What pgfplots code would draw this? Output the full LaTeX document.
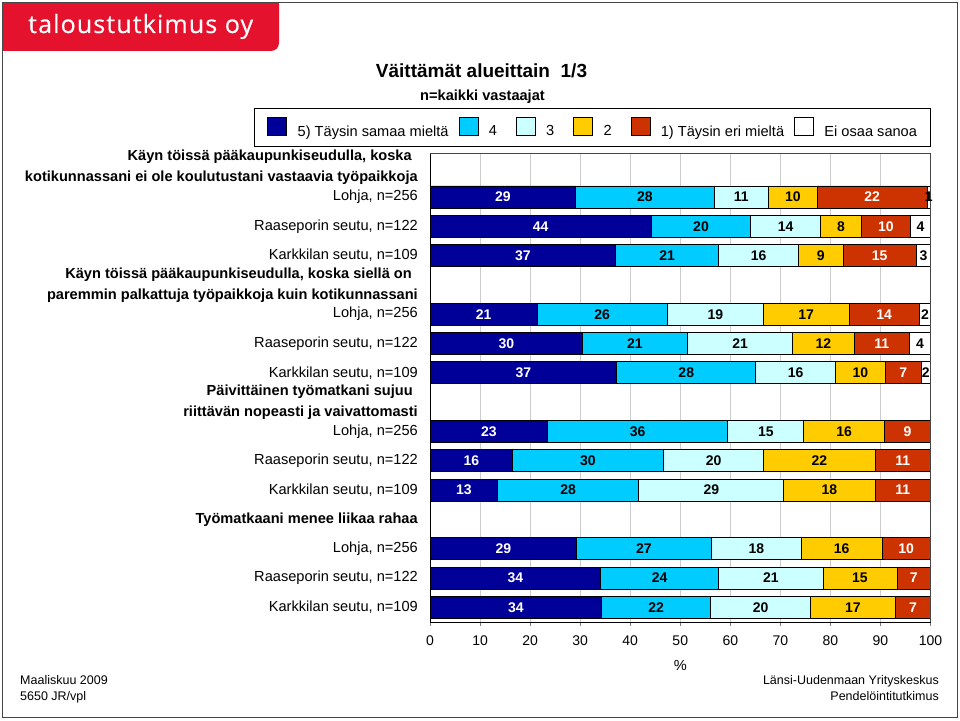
\documentclass[border=0pt]{standalone}
\usepackage{pgfplots}
\pgfplotsset{compat=1.18}
\usepackage{pgfplotstable}
\usepackage{fontspec}
\setmainfont{Liberation Sans}
\newfontfamily\logofont[LetterSpace=4.5,FakeBold=0.4]{Open Sans}
\definecolor{c5}{RGB}{0,0,153}
\definecolor{c4}{RGB}{0,204,255}
\definecolor{c3}{RGB}{204,255,255}
\definecolor{c2}{RGB}{255,204,0}
\definecolor{c1}{RGB}{204,51,0}
\definecolor{tred}{RGB}{228,18,45}
\definecolor{frame}{RGB}{70,70,70}

% y: slot position; a..f: segment widths (5,4,3,2,1,EOS)
\pgfplotstableread{
y  a    b    c    d    e    f
0  29.1 27.7 10.8 9.8  21.9 0.7
1  44.2 19.9 13.9 8.2  9.8  4.0
2  37.1 20.6 15.9 8.9  14.7 2.8
4  21.4 26.0 19.2 17.1 14.1 2.2
5  30.5 20.9 21.1 12.2 11.1 4.2
6  37.3 27.8 15.9 10.0 7.1  1.9
8  23.5 36.0 15.2 16.1 9.2  0
9  16.5 30.1 20.1 22.2 11.1 0
10 13.5 28.2 29.0 18.2 11.1 0
12 29.3 26.9 18.0 16.1 9.7  0
13 34.1 23.6 20.8 14.8 6.7  0
14 34.3 21.8 19.9 17.0 7.0  0
}\data
% printed labels (la..lf) at segment centres (ma..mf)
\pgfplotstableread{
y  ma    la mb    lb mc    lc md    ld me    le mf    lf
0  14.55 29 42.95 28 62.20 11 72.50 10 88.35 22 99.65 1
1  22.10 44 54.15 20 71.05 14 82.10 8  91.10 10 98.00 4
2  18.55 37 47.40 21 65.65 16 78.05 9  89.85 15 98.60 3
4  10.70 21 34.40 26 57.00 19 75.15 17 90.75 14 98.90 2
5  15.25 30 40.95 21 61.95 21 78.60 12 90.25 11 97.90 4
6  18.65 37 51.20 28 73.05 16 86.00 10 94.55 7  99.05 2
8  11.75 23 41.50 36 67.10 15 82.75 16 95.40 9  100 {}
9  8.25  16 31.55 30 56.65 20 77.80 22 94.45 11 100 {}
10 6.75  13 27.60 28 56.20 29 79.80 18 94.45 11 100 {}
12 14.65 29 42.75 27 65.20 18 82.25 16 95.15 10 100 {}
13 17.05 34 45.90 24 68.10 21 85.90 15 96.65 7  100 {}
14 17.15 34 45.20 22 66.05 20 84.50 17 96.50 7  100 {}
}\labels

\begin{document}
\begin{tikzpicture}[x=1pt,y=1pt]
\useasboundingbox (0,0) rectangle (960,720);
% red logo tab
\fill[tred] (3,717) -- (279,717) -- (279,677) arc[start angle=0,end angle=-90,radius=8] -- (3,669) -- cycle;
\node[anchor=base west, inner sep=0pt, text=white, font=\logofont\fontsize{25}{25}\selectfont] at (28,687) {taloustutkimus oy};
\draw[frame, line width=1pt] (2.5,2.5) rectangle (957.5,717.5);

% titles
\node[anchor=base, inner sep=0pt, font=\bfseries\fontsize{19}{19}\selectfont] at (481.5,642.3) {Väittämät alueittain\ \ 1/3};
\node[anchor=base, inner sep=0pt, font=\bfseries\fontsize{14.6}{14.6}\selectfont] at (482.5,619) {n=kaikki vastaajat};

% footers
\node[anchor=base west, inner sep=0pt, font=\fontsize{12.5}{12.5}\selectfont] at (20,35.5) {Maaliskuu 2009};
\node[anchor=base west, inner sep=0pt, font=\fontsize{12.5}{12.5}\selectfont] at (20,19.5) {5650 JR/vpl};
\node[anchor=base east, inner sep=0pt, font=\fontsize{12.5}{12.5}\selectfont] at (939,35.5) {Länsi-Uudenmaan Yrityskeskus};
\node[anchor=base east, inner sep=0pt, font=\fontsize{12.5}{12.5}\selectfont] at (939,19.5) {Pendelöintitutkimus};

\begin{axis}[
  at={(430pt,98pt)}, anchor=south west,
  scale only axis, width=500.5pt, height=469pt,
  xbar stacked, bar width=0.75,
  xmin=0, xmax=100, ymin=-1.5, ymax=14.5, y dir=reverse,
  xtick={0,10,...,100}, xtick pos=left,
  tick align=outside, major tick length=4pt,
  xmajorgrids, grid style={draw=black!20, line width=0.8pt},
  axis line style={line width=1pt},
  /pgf/number format/assume math mode=true,
  xticklabel style={font=\fontsize{14}{14}\selectfont, yshift=-6pt},
  xlabel={\%}, xlabel style={font=\fontsize{14.6}{14.6}\selectfont, yshift=-8pt},
  ytick={-1,0,...,14},
  ytick style={draw=none},
  yticklabel style={align=right, inner sep=0pt, xshift=-8pt, font=\fontsize{14.6}{21}\selectfont},
  yticklabels={
    {\textbf{Käyn töissä pääkaupunkiseudulla, koska}\hspace*{6pt}\\\textbf{kotikunnassani ei ole koulutustani vastaavia työpaikkoja}},
    {Lohja, n=256},{Raaseporin seutu, n=122},{Karkkilan seutu, n=109},
    {\textbf{Käyn töissä pääkaupunkiseudulla, koska siellä on}\hspace*{6pt}\\\textbf{paremmin palkattuja työpaikkoja kuin kotikunnassani}},
    {Lohja, n=256},{Raaseporin seutu, n=122},{Karkkilan seutu, n=109},
    {\textbf{Päivittäinen työmatkani sujuu}\hspace*{5pt}\\\textbf{riittävän nopeasti ja vaivattomasti}},
    {Lohja, n=256},{Raaseporin seutu, n=122},{Karkkilan seutu, n=109},
    {\textbf{Työmatkaani menee liikaa rahaa}},
    {Lohja, n=256},{Raaseporin seutu, n=122},{Karkkilan seutu, n=109}
  },
  every axis plot/.append style={draw=black, line width=0.8pt},
  legend columns=6,
  legend image code/.code={\draw[#1, draw=black, line width=0.8pt] (0pt,-4pt) rectangle (19pt,14pt); \path (29.5pt,0pt);},
  legend style={at={(rel axis cs:1,1)}, anchor=south east, yshift=6pt,
    draw=black, line width=1pt, inner xsep=13pt, inner ysep=9pt,
    font=\fontsize{14.6}{14.6}\selectfont,
    nodes={inner sep=0pt},
    /tikz/every even column/.append style={column sep=10pt}},
  legend cell align=left,
  after end axis/.code={\draw[frame, line width=1pt] (rel axis cs:0,1) -- (rel axis cs:1,1) -- (rel axis cs:1,0);},
]
\addplot[fill=c5] table[x=a, y=y] {\data};
\addlegendentry{5) Täysin samaa mieltä}
\addplot[fill=c4] table[x=b, y=y] {\data};
\addlegendentry{\makebox[17pt][l]{4}}
\addplot[fill=c3] table[x=c, y=y] {\data};
\addlegendentry{\makebox[17pt][l]{3}}
\addplot[fill=c2] table[x=d, y=y] {\data};
\addlegendentry{\makebox[17pt][l]{2}}
\addplot[fill=c1] table[x=e, y=y] {\data};
\addlegendentry{1) Täysin eri mieltä}
\addplot[fill=white] table[x=f, y=y] {\data};
\addlegendentry{Ei osaa sanoa}
\end{axis}

% value labels centred in the segments
\begin{axis}[
  at={(430pt,98pt)}, anchor=south west,
  scale only axis, width=500.5pt, height=469pt,
  xmin=0, xmax=100, ymin=-1.5, ymax=14.5, y dir=reverse,
  hide axis, clip=false,
  every axis plot/.append style={draw=none, mark=none, nodes near coords, point meta=explicit symbolic},
  every node near coord/.append style={anchor=center, inner sep=0pt, font=\bfseries\fontsize{14}{14}\selectfont},
]
\addplot[every node near coord/.append style={text=white}] table[x=ma, y=y, meta=la] {\labels};
\addplot[every node near coord/.append style={text=black}] table[x=mb, y=y, meta=lb] {\labels};
\addplot[every node near coord/.append style={text=black}] table[x=mc, y=y, meta=lc] {\labels};
\addplot[every node near coord/.append style={text=black}] table[x=md, y=y, meta=ld] {\labels};
\addplot[every node near coord/.append style={text=white}] table[x=me, y=y, meta=le] {\labels};
\addplot[every node near coord/.append style={text=black}] table[x=mf, y=y, meta=lf] {\labels};
\end{axis}
\end{tikzpicture}
\end{document}
